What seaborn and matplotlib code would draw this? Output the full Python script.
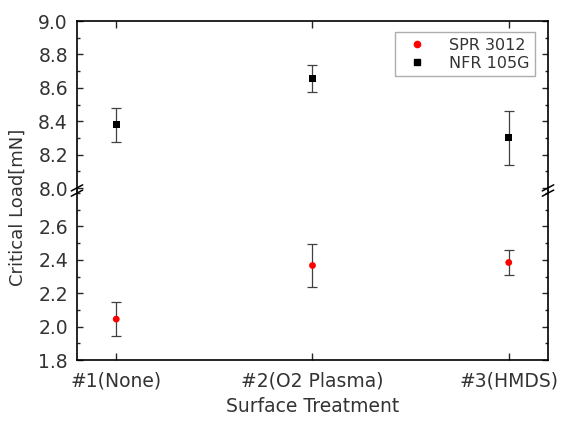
import numpy as np
import pandas as pd
import matplotlib
matplotlib.use("Agg")
import matplotlib.pyplot as plt
from matplotlib.ticker import MultipleLocator, FormatStrFormatter
from matplotlib.lines import Line2D
import seaborn as sns

# data
treatments = ["#1(None)", "#2(O2 Plasma)", "#3(HMDS)"]
spr_mean = [2.045, 2.366, 2.384]
spr_err = [0.100, 0.128, 0.077]
nfr_mean = [8.378, 8.655, 8.302]
nfr_err = [0.100, 0.080, 0.162]

sns.set_style("ticks")
plt.rcParams['font.family'] = ['DejaVu Sans']
txt = "#333333"

df = pd.DataFrame({
    "Surface Treatment": treatments * 2,
    "load": spr_mean + nfr_mean,
    "err": spr_err + nfr_err,
    "sample": ["SPR 3012"] * 3 + ["NFR 105G"] * 3,
})

fig, (ax_top, ax_bot) = plt.subplots(2, 1, figsize=(5.69, 4.36), dpi=100, sharex=True)
fig.subplots_adjust(left=0.1353, right=0.9631, top=0.9518, bottom=0.1743, hspace=0)

colors = {"SPR 3012": "#ff0000", "NFR 105G": "#000000"}
markers = {"SPR 3012": "o", "NFR 105G": "s"}
xpos = np.arange(len(treatments))

for ax in (ax_top, ax_bot):
    for name, sub in df.groupby("sample"):
        ax.errorbar(xpos, sub["load"], yerr=sub["err"], fmt="none",
                    ecolor="#404040", elinewidth=0.9, capsize=3.5, capthick=0.9, zorder=2)
    sns.scatterplot(data=df, x="Surface Treatment", y="load", hue="sample", style="sample",
                    palette=colors, markers=markers, s=24, edgecolor="none",
                    legend=False, ax=ax, zorder=3)
    ax.set_xlim(-0.2, 2.2)
    ax.yaxis.set_major_locator(MultipleLocator(0.2))
    ax.yaxis.set_minor_locator(MultipleLocator(0.1))
    ax.tick_params(axis="y", which="major", direction="in", length=4, width=1,
                   left=True, right=True, labelsize=13.5, labelcolor=txt, pad=6.5)
    ax.tick_params(axis="y", which="minor", direction="in", length=2.5, width=1,
                   left=True, right=True)
    ax.set_xlabel("")
    ax.set_ylabel("")
    for sp in ax.spines.values():
        sp.set_linewidth(1.2)
        sp.set_color("black")

ax_top.set_ylim(7.985, 9.0)
ax_bot.set_ylim(1.8, 2.815)
ax_top.set_yticks([8.0, 8.2, 8.4, 8.6, 8.8, 9.0])
ax_bot.set_yticks([1.8, 2.0, 2.2, 2.4, 2.6])
ax_top.yaxis.set_major_formatter(FormatStrFormatter("%.1f"))
ax_bot.yaxis.set_major_formatter(FormatStrFormatter("%.1f"))

ax_top.spines["bottom"].set_visible(False)
ax_bot.spines["top"].set_visible(False)
ax_top.tick_params(axis="x", which="both", bottom=False, top=True, direction="in",
                   length=5, width=1, labelbottom=False)
ax_bot.tick_params(axis="x", which="both", bottom=True, top=False, direction="in",
                   length=5, width=1, labelsize=13.5, labelcolor=txt, pad=8)
ax_bot.set_xticks(xpos)
ax_bot.set_xticklabels(treatments)
ax_bot.set_xlabel("Surface Treatment", fontsize=13.5, labelpad=5, color=txt)
fig.text(0.031, 0.525, "Critical Load[mN]", rotation=90, fontsize=13,
         ha="center", va="center", color=txt)

# break marks
dx, dy = 0.010, 0.007
kw = dict(transform=fig.transFigure, color="black", lw=1.1, clip_on=False)
yb = ax_bot.get_position().y1
for xs in (ax_top.get_position().x0, ax_top.get_position().x1):
    for off in (-0.006, 0.006):
        fig.add_artist(Line2D([xs - dx, xs + dx], [yb + off - dy, yb + off + dy], **kw))

handles = [
    Line2D([], [], ls="none", marker="o", color="#ff0000", markersize=4.5),
    Line2D([], [], ls="none", marker="s", color="#000000", markersize=4.5),
]
leg = ax_top.legend(handles, ["SPR 3012", "NFR 105G"], loc="upper right",
                    bbox_to_anchor=(0.972, 0.935), borderaxespad=0, fontsize=11.5,
                    frameon=True, fancybox=False, edgecolor="#999999", handletextpad=1.0,
                    borderpad=0.35, labelspacing=0.2)
for t in leg.get_texts():
    t.set_color(txt)
leg.get_frame().set_linewidth(1)

fig.savefig("out.png", dpi=100)
